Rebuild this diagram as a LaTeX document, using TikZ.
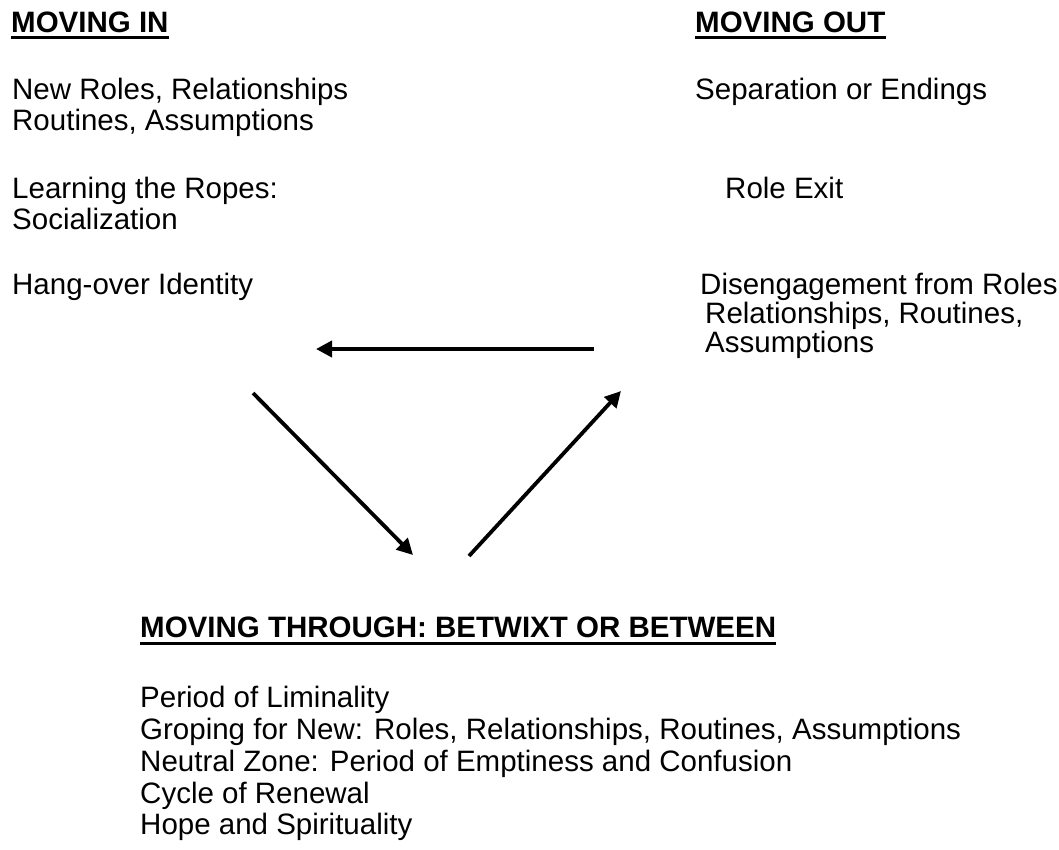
\documentclass[tikz,border=0pt]{standalone}
\usepackage{fontspec}
\setmainfont{Liberation Sans}
\usetikzlibrary{arrows.meta}
\begin{document}
\begin{tikzpicture}[x=1pt,y=-1pt,
  txt/.style={anchor=base west,inner sep=0pt,font=\fontsize{29.5}{31}\selectfont},
  head/.style={txt,font=\fontsize{29.5}{31}\selectfont\bfseries},
  uline/.style={line width=3pt},
  arr/.style={line width=3.8pt,-{Triangle[length=16pt,width=16pt]}}]
\useasboundingbox[fill=white] (0,0) rectangle (1059,849);
% left column
\node[head] (hin) at (11,32) {MOVING IN\ };
\draw[uline] ([yshift=-5.5pt]hin.base west) -- ([yshift=-5.5pt]hin.base east);
\node[txt] (l1) at (12,99) {New Roles, Relationships};
\node[txt] (l2) at (12,130) {Routines, Assumptions};
\node[txt] (l3) at (12,198) {Learning the Ropes:};
\node[txt] (l4) at (12,229) {Socialization};
\node[txt] (l5) at (12,294) {Hang-over Identity};
% right column
\node[head] (hout) at (695,32) {MOVING OUT};
\draw[uline] ([yshift=-5.5pt]hout.base west) -- ([yshift=-5.5pt]hout.base east);
\node[txt] (r1) at (695,99) {Separation or Endings};
\node[txt] (r2) at (725,198) {Role Exit};
\node[txt] (r3) at (700,294) {Disengagement from Roles};
\node[txt] (r4) at (705,323) {Relationships, Routines,};
\node[txt] (r5) at (705,352) {Assumptions};
% bottom
\node[head] (hth) at (140,637) {MOVING THROUGH: BETWIXT OR BETWEEN};
\draw[uline] ([yshift=-6pt]hth.base west) -- ([yshift=-6pt]hth.base east);
\node[txt] (b1) at (140,707) {Period of Liminality};
\node[txt] (b2) at (140,739) {Groping for New: Roles, Relationships, Routines, Assumptions};
\node[txt] (b3) at (140,771) {Neutral Zone: Period of Emptiness and Confusion};
\node[txt] (b4) at (140,803) {Cycle of Renewal};
\node[txt] (b5) at (140,834) {Hope and Spirituality};
% arrows
\coordinate (a1s) at (594,349);
\coordinate (a1e) at (316,349);
\coordinate (a2s) at (253,393);
\coordinate (a2e) at (413,555);
\coordinate (a3s) at (469,556);
\coordinate (a3e) at (621,391);
\draw[arr] (a1s) -- (a1e);
\draw[arr] (a2s) -- (a2e);
\draw[arr] (a3s) -- (a3e);
\end{tikzpicture}
\end{document}
